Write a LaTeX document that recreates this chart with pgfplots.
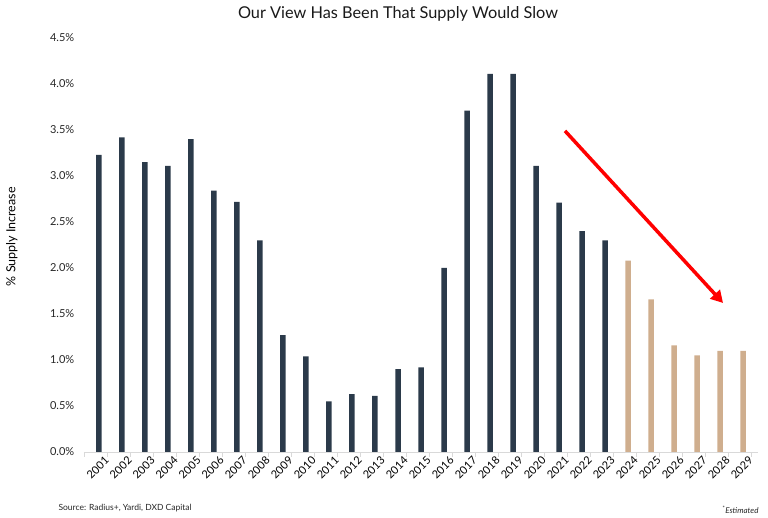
\documentclass[border=0pt]{standalone}
\usepackage{pgfplots}
\pgfplotsset{compat=1.18}
\usepackage{fontspec}
\setmainfont{Lato}
\usetikzlibrary{arrows.meta}
\definecolor{navy}{HTML}{2B3A4A}
\definecolor{tan}{HTML}{CFAE8E}
\definecolor{arrowred}{HTML}{FF0000}
\begin{document}
\begin{tikzpicture}[x=1pt,y=1pt]
\useasboundingbox (0,0) rectangle (768,518);
\begin{axis}[
  at={(84pt,66pt)}, anchor=south west,
  scale only axis, width=674pt, height=414pt,
  xmin=2000.35, xmax=2029.65, ymin=0, ymax=4.5,
  axis x line*=bottom, axis y line*=left,
  y axis line style={draw=none},
  x axis line style={draw=black!15, line width=0.8pt},
  ytick={0,0.5,...,4.5},
  ytick style={draw=none},
  yticklabel={\pgfmathprintnumber[fixed,fixed zerofill,precision=1]{\tick}\%},
  /pgf/number format/assume math mode=true,
  yticklabel style={font=\fontsize{11}{12}\selectfont, text=black!85, xshift=-2pt},
  xtick={2001,...,2029},
  xticklabels={2001,2002,2003,2004,2005,2006,2007,2008,2009,2010,2011,2012,2013,2014,2015,2016,2017,2018,2019,2020,2021,2022,2023,2024,2025,2026,2027,2028,2029},
  xticklabel style={rotate=45, anchor=north east, font=\fontsize{11}{12}\selectfont, text=black, xshift=5pt, yshift=-2pt, inner sep=1pt},
  major x tick style={draw=none},
  minor xtick={2000.35,2001.35,2002.35,2003.35,2004.35,2005.35,2006.35,2007.35,2008.35,2009.35,2010.35,2011.35,2012.35,2013.35,2014.35,2015.35,2016.35,2017.35,2018.35,2019.35,2020.35,2021.35,2022.35,2023.35,2024.35,2025.35,2026.35,2027.35,2028.35,2029.35},
  minor x tick style={draw=black!15, line width=0.8pt},
  minor tick length=5pt,
  tick align=outside,
  ylabel={\% Supply Increase},
  every axis y label/.style={at={(axis description cs:-0.107,0.52)}, rotate=90, anchor=center, font=\fontsize{12.5}{14}\selectfont, text=black},
  ybar, bar width=5.5pt, bar shift=0pt,
  clip=false,
]
\addplot[fill=navy, draw=none] coordinates {
(2001,3.23) (2002,3.42) (2003,3.15) (2004,3.11) (2005,3.40) (2006,2.84)
(2007,2.72) (2008,2.30) (2009,1.27) (2010,1.04) (2011,0.55) (2012,0.63)
(2013,0.61) (2014,0.90) (2015,0.92) (2016,2.00) (2017,3.71) (2018,4.11)
(2019,4.11) (2020,3.11) (2021,2.71) (2022,2.40) (2023,2.30)};
\addplot[fill=tan, draw=none] coordinates {
(2024,2.08) (2025,1.66) (2026,1.16) (2027,1.05) (2028,1.10) (2029,1.10)};
\draw[arrowred, line width=3.5pt, -{Triangle[length=12pt,width=13pt]}]
  (axis cs:2021.26,3.49) -- (axis cs:2028.13,1.62);
\end{axis}
\node[font=\fontsize{16.3}{19}\selectfont, text=black!90] at (398,504) {Our View Has Been That Supply Would Slow};
\node[font=\fontsize{8.5}{10}\selectfont, anchor=west, text=black!85] at (55,10) {Source: Radius+, Yardi, DXD Capital};
\node[font=\fontsize{8}{10}\selectfont\itshape, anchor=east, text=black!85] at (762,8) {\textsuperscript{*}Estimated};
\end{tikzpicture}
\end{document}
